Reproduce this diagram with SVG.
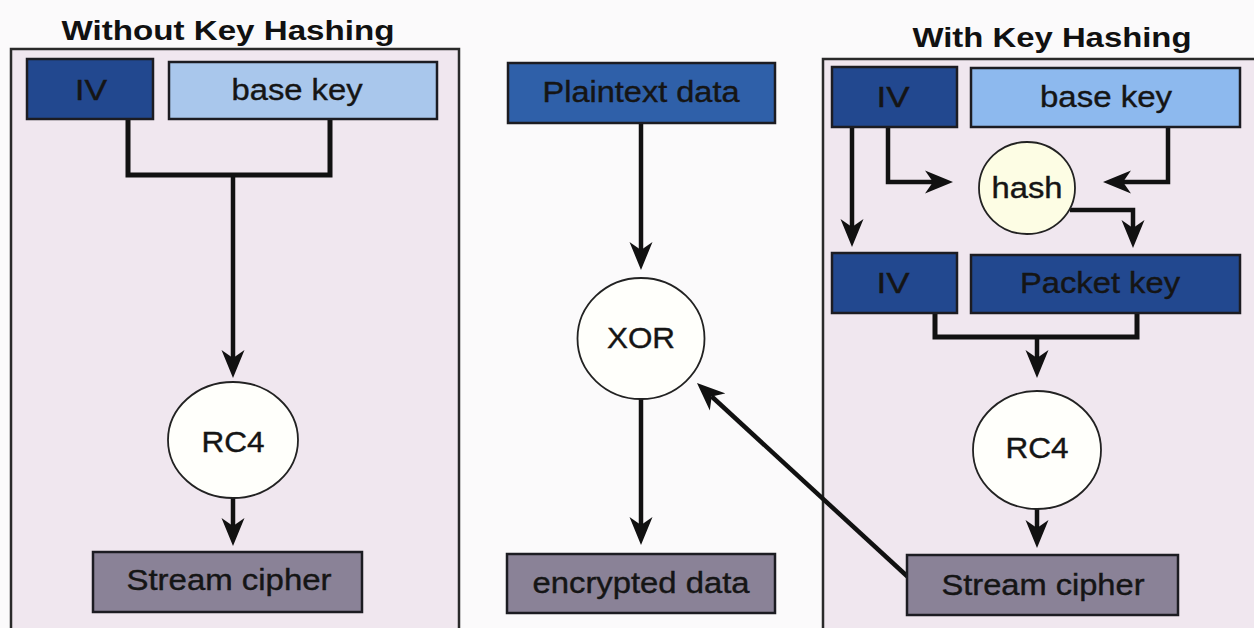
<svg xmlns="http://www.w3.org/2000/svg" width="1254" height="628" viewBox="0 0 1254 628">
  <style>
    .title { font-family: "Liberation Sans", Arial, sans-serif; font-weight: bold; font-size: 28px; fill: #111; text-anchor: middle; }
    .lbl { font-family: "Liberation Sans", Arial, sans-serif; font-size: 29px; fill: #151515; text-anchor: middle; stroke: #151515; stroke-width: 0.4; }
    .panel { fill: #f0e7ef; stroke: #2a2a2a; stroke-width: 2.5; }
    .box { stroke: #1c1c22; stroke-width: 2.5; }
    .dark { fill: #22488f; }
    .mid { fill: #2f60a9; }
    .light { fill: #a9c7ec; }
    .light2 { fill: #8db9ee; }
    .grey { fill: #8a8297; }
    .op { fill: #fffffb; stroke: #222; stroke-width: 1.8; }
    .hash { fill: #fdfde4; stroke: #222; stroke-width: 1.8; }
    .wire { fill: none; stroke: #111; stroke-width: 5; }
    .arrow { fill: none; stroke: #111; stroke-width: 4.5; marker-end: url(#head); }
  </style>
  <defs>
    <marker id="head" viewBox="0 -12 28 24" refX="8" refY="0" markerWidth="28" markerHeight="24" markerUnits="userSpaceOnUse" orient="auto">
      <path d="M0,-11.5 L28,0 L0,11.5 L8,0 Z" fill="#111"/>
    </marker>
  </defs>

  <rect width="1254" height="628" fill="#fbfafb"/>

  <!-- panel frames -->
  <rect class="panel" x="11" y="49" width="448" height="600"/>
  <rect class="panel" x="823" y="59" width="450" height="600"/>
  <text class="title" x="228" y="40" textLength="333" lengthAdjust="spacingAndGlyphs">Without Key Hashing</text>
  <text class="title" x="1052" y="47" textLength="279" lengthAdjust="spacingAndGlyphs">With Key Hashing</text>

  <!-- connectors -->
  <g id="connectors">
    <path class="wire" d="M128,119 V175 H330 V120"/>
    <path class="arrow" d="M233,175 V358"/>
    <path class="arrow" d="M233,497 V526"/>

    <path class="arrow" d="M641,123 V250"/>
    <path class="arrow" d="M641,399 V525"/>
    <path class="arrow" d="M908,577 L711.7,396.5"/>

    <path class="arrow" d="M888,127 V182 H933"/>
    <path class="arrow" d="M1168,127 V182 H1123"/>
    <path class="arrow" d="M852,127 V227"/>
    <path class="arrow" d="M1070,210 H1133 V228"/>
    <path class="wire" d="M935,313 V337 H1137 V313"/>
    <path class="arrow" d="M1037,337 V358"/>
    <path class="arrow" d="M1037,509 V528"/>
  </g>

  <!-- left: without key hashing -->
  <g id="iv-left">
    <rect class="box dark" x="27" y="59" width="126" height="60"/>
    <text class="lbl" x="91" y="100" textLength="32" lengthAdjust="spacingAndGlyphs">IV</text>
  </g>
  <g id="basekey-left">
    <rect class="box light" x="169" y="62" width="268" height="57"/>
    <text class="lbl" x="297" y="100" textLength="131" lengthAdjust="spacingAndGlyphs">base key</text>
  </g>
  <g id="rc4-left">
    <ellipse class="op" cx="233" cy="440" rx="65" ry="58"/>
    <text class="lbl" x="233" y="452" textLength="63" lengthAdjust="spacingAndGlyphs">RC4</text>
  </g>
  <g id="stream-left">
    <rect class="box grey" x="93" y="552" width="269" height="60"/>
    <text class="lbl" x="229" y="590" textLength="205" lengthAdjust="spacingAndGlyphs">Stream cipher</text>
  </g>

  <!-- centre: data path -->
  <g id="plaintext">
    <rect class="box mid" x="508" y="63" width="267" height="60"/>
    <text class="lbl" x="641" y="102" textLength="197" lengthAdjust="spacingAndGlyphs">Plaintext data</text>
  </g>
  <g id="xor">
    <ellipse class="op" cx="641" cy="338.5" rx="63.5" ry="60.5"/>
    <text class="lbl" x="641" y="348" textLength="68" lengthAdjust="spacingAndGlyphs">XOR</text>
  </g>
  <g id="encrypted">
    <rect class="box grey" x="507" y="554" width="268" height="59"/>
    <text class="lbl" x="641" y="593" textLength="217" lengthAdjust="spacingAndGlyphs">encrypted data</text>
  </g>

  <!-- right: with key hashing -->
  <g id="iv-right">
    <rect class="box dark" x="832" y="67" width="125" height="60"/>
    <text class="lbl" x="893" y="107" textLength="33" lengthAdjust="spacingAndGlyphs">IV</text>
  </g>
  <g id="basekey-right">
    <rect class="box light2" x="971" y="68" width="269" height="59"/>
    <text class="lbl" x="1106" y="107" textLength="132" lengthAdjust="spacingAndGlyphs">base key</text>
  </g>
  <g id="hash">
    <ellipse class="hash" cx="1027" cy="188" rx="48" ry="46"/>
    <text class="lbl" x="1027" y="198" font-size="28" textLength="71" lengthAdjust="spacingAndGlyphs">hash</text>
  </g>
  <g id="iv-packet">
    <rect class="box dark" x="832" y="253" width="125" height="60"/>
    <text class="lbl" x="893" y="293" textLength="33" lengthAdjust="spacingAndGlyphs">IV</text>
  </g>
  <g id="packetkey">
    <rect class="box dark" x="971" y="255" width="269" height="58"/>
    <text class="lbl" x="1100" y="293" textLength="160" lengthAdjust="spacingAndGlyphs">Packet key</text>
  </g>
  <g id="rc4-right">
    <ellipse class="op" cx="1037" cy="450" rx="64" ry="59"/>
    <text class="lbl" x="1037" y="458" textLength="63" lengthAdjust="spacingAndGlyphs">RC4</text>
  </g>
  <g id="stream-right">
    <rect class="box grey" x="907" y="555" width="271" height="60"/>
    <text class="lbl" x="1043" y="595" textLength="203" lengthAdjust="spacingAndGlyphs">Stream cipher</text>
  </g>
</svg>
